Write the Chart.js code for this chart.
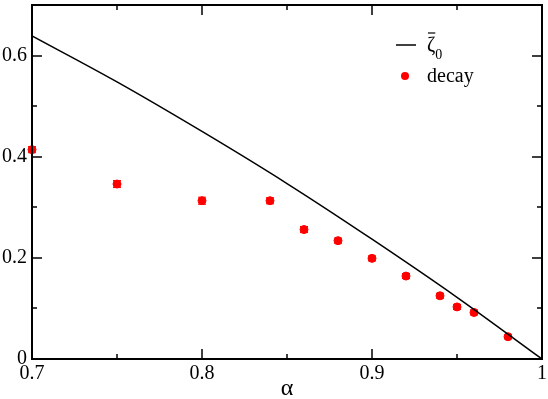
<!DOCTYPE html>
<html>
<head>
<meta charset="utf-8">
<script src="https://cdn.jsdelivr.net/npm/chart.js@4"></script>
<style>
  body { margin: 0; background: #fff; }
  #wrap { width: 548px; height: 399px; }
</style>
</head>
<body>
<div id="wrap"><canvas id="chart"></canvas></div>
<script>
// zeta_0 bar curve
const curveAlpha = [0.7, 0.75, 0.8, 0.85, 0.9, 0.95, 1.0];
const curveZeta = [0.639, 0.548, 0.450, 0.347, 0.237, 0.122, 0.0];

// decay points with their (small) error bars
const decayAlpha = [0.7, 0.75, 0.8, 0.84, 0.86, 0.88, 0.9, 0.92, 0.94, 0.95, 0.96, 0.98];
const decayZeta = [0.414, 0.346, 0.313, 0.313, 0.256, 0.234, 0.199, 0.164, 0.125, 0.103, 0.092, 0.044];
const decayErr = [0.006, 0.007, 0.007, 0.006, 0.006, 0.005, 0.005, 0.005, 0.005, 0.005, 0.005, 0.004];

// ticks
const xMajor = [0.7, 0.8, 0.9, 1.0];
const xMinor = [0.75, 0.85, 0.95];
const yMajor = [0, 0.2, 0.4, 0.6];
const yMinor = [0.1, 0.3, 0.5];

const serif = '"Liberation Serif", "Times New Roman", Times, serif';

// frame with inward ticks on all four sides
const framePlugin = {
  id: 'frame',
  afterDatasetsDraw(chart) {
    const ctx = chart.ctx;
    const a = chart.chartArea;
    const xs = chart.scales.x, ys = chart.scales.y;
    ctx.save();
    ctx.strokeStyle = '#000';
    ctx.lineWidth = 2;
    ctx.strokeRect(a.left, a.top, a.right - a.left, a.bottom - a.top);
    ctx.lineWidth = 1.5;
    ctx.beginPath();
    xMajor.forEach(v => {
      const px = Math.round(xs.getPixelForValue(v));
      ctx.moveTo(px, a.bottom); ctx.lineTo(px, a.bottom - 10);
      ctx.moveTo(px, a.top); ctx.lineTo(px, a.top + 10);
    });
    xMinor.forEach(v => {
      const px = Math.round(xs.getPixelForValue(v));
      ctx.moveTo(px, a.bottom); ctx.lineTo(px, a.bottom - 5);
      ctx.moveTo(px, a.top); ctx.lineTo(px, a.top + 5);
    });
    yMajor.forEach(v => {
      const py = Math.round(ys.getPixelForValue(v));
      ctx.moveTo(a.left, py); ctx.lineTo(a.left + 10, py);
      ctx.moveTo(a.right, py); ctx.lineTo(a.right - 10, py);
    });
    yMinor.forEach(v => {
      const py = Math.round(ys.getPixelForValue(v));
      ctx.moveTo(a.left, py); ctx.lineTo(a.left + 5, py);
      ctx.moveTo(a.right, py); ctx.lineTo(a.right - 5, py);
    });
    ctx.stroke();
    ctx.restore();
  }
};

// vertical error bars for the decay points
const errorBarPlugin = {
  id: 'errorBars',
  beforeDatasetDraw(chart, args) {
    if (args.index !== 1) return;
    const ctx = chart.ctx;
    const xs = chart.scales.x, ys = chart.scales.y;
    ctx.save();
    ctx.strokeStyle = '#ff0000';
    ctx.lineWidth = 1;
    ctx.beginPath();
    decayAlpha.forEach((a, i) => {
      const px = xs.getPixelForValue(a);
      const top = ys.getPixelForValue(decayZeta[i] + decayErr[i]);
      const bot = ys.getPixelForValue(decayZeta[i] - decayErr[i]);
      ctx.moveTo(px, top); ctx.lineTo(px, bot);
      ctx.moveTo(px - 4, top); ctx.lineTo(px + 4, top);
      ctx.moveTo(px - 4, bot); ctx.lineTo(px + 4, bot);
    });
    ctx.stroke();
    ctx.restore();
  }
};

// legend with the overlined zeta and subscript
const legendPlugin = {
  id: 'customLegend',
  afterDraw(chart) {
    const ctx = chart.ctx;
    ctx.save();
    ctx.strokeStyle = '#000';
    ctx.lineWidth = 1.5;
    ctx.beginPath();
    ctx.moveTo(396, 45); ctx.lineTo(416, 45);
    ctx.stroke();
    ctx.fillStyle = '#000';
    ctx.textBaseline = 'alphabetic';
    ctx.font = '20px ' + serif;
    ctx.fillText('ζ', 427, 51);
    const zw = ctx.measureText('ζ').width;
    ctx.lineWidth = 1.2;
    ctx.beginPath();
    ctx.moveTo(428, 33); ctx.lineTo(427 + zw, 33);
    ctx.stroke();
    ctx.font = '14px ' + serif;
    ctx.fillText('0', 427 + zw, 59);
    ctx.fillStyle = '#ff0000';
    ctx.beginPath();
    ctx.arc(405, 76, 4, 0, Math.PI * 2);
    ctx.fill();
    ctx.fillStyle = '#000';
    ctx.font = '20px ' + serif;
    ctx.fillText('decay', 427, 82);
    ctx.restore();
  }
};

function draw() {
  const ctx = document.getElementById('chart').getContext('2d');
  new Chart(ctx, {
    type: 'scatter',
    data: {
      datasets: [
        {
          type: 'line',
          label: 'zeta0',
          data: curveAlpha.map((a, i) => ({ x: a, y: curveZeta[i] })),
          borderColor: '#000',
          borderWidth: 1.5,
          pointRadius: 0,
          cubicInterpolationMode: 'monotone',
          fill: false
        },
        {
          label: 'decay',
          data: decayAlpha.map((a, i) => ({ x: a, y: decayZeta[i] })),
          backgroundColor: '#ff0000',
          borderColor: '#ff0000',
          pointRadius: 4,
          clip: false
        }
      ]
    },
    options: {
      responsive: true,
      maintainAspectRatio: false,
      animation: false,
      layout: { padding: { top: 1, right: 6, left: 0, bottom: 0 } },
      plugins: {
        legend: { display: false },
        tooltip: { enabled: false }
      },
      scales: {
        x: {
          type: 'linear',
          min: 0.7,
          max: 1,
          grid: { display: false, drawTicks: false },
          border: { display: false },
          afterFit: s => { s.height = 40; s.paddingLeft = 0; s.paddingRight = 0; },
          ticks: {
            stepSize: 0.1,
            padding: 3,
            color: '#000',
            font: { family: serif, size: 20 },
            callback: v => String(Number(v.toFixed(1)))
          },
          title: {
            display: true,
            text: 'α',
            color: '#000',
            font: { family: serif, size: 24 },
            padding: { top: 0, bottom: -4 }
          }
        },
        y: {
          min: 0,
          max: 0.7,
          grid: { display: false, drawTicks: false },
          border: { display: false },
          afterFit: s => { s.width = 32; s.paddingTop = 0; s.paddingBottom = 0; },
          ticks: {
            stepSize: 0.2,
            includeBounds: false,
            padding: 5,
            color: '#000',
            font: { family: serif, size: 20 },
            callback: v => String(Number(v.toFixed(1)))
          }
        }
      }
    },
    plugins: [framePlugin, errorBarPlugin, legendPlugin]
  });
}

if (document.fonts && document.fonts.load) {
  Promise.all([
    document.fonts.load('20px "Liberation Serif"'),
    document.fonts.load('14px "Liberation Serif"')
  ]).then(draw, draw);
} else {
  draw();
}
</script>
</body>
</html>
